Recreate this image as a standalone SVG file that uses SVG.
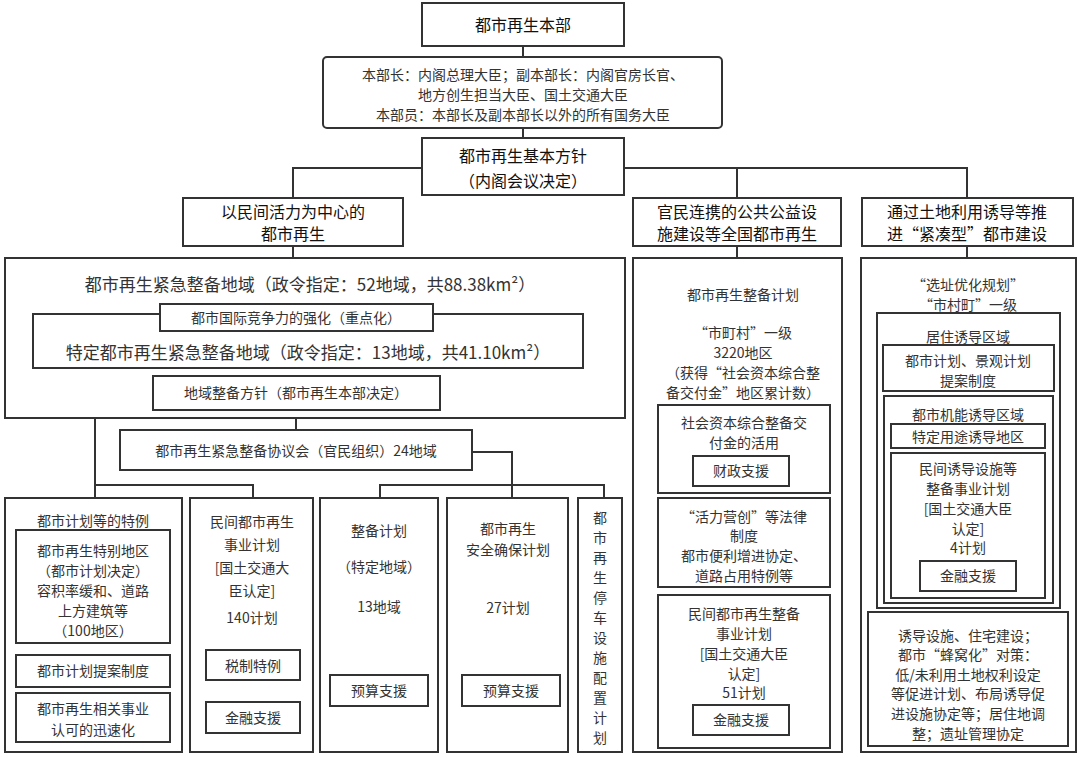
<svg xmlns="http://www.w3.org/2000/svg" width="1080" height="758" viewBox="0 0 1080 758">
<style>
rect{fill:#fff;stroke:#333;stroke-width:2}
.c line,.c polyline{stroke:#333;stroke-width:2;fill:none}
text{font-family:"Noto Sans CJK SC","Liberation Sans",sans-serif;fill:#333;text-anchor:middle;font-size:14px}
.h{font-size:16px;fill:#111}
.b{font-size:17px}
</style>
<rect width="1080" height="758" style="fill:#fff;stroke:none"/>
<g class="c">
<line x1="523" y1="46" x2="523" y2="57"/>
<line x1="523" y1="128" x2="523" y2="138"/>
<polyline points="293,198 293,168 967,168 967,198"/>
<line x1="737" y1="168" x2="737" y2="198"/>
<line x1="293" y1="246" x2="293" y2="258"/>
<line x1="737" y1="246" x2="737" y2="258"/>
<line x1="967" y1="246" x2="967" y2="258"/>
<line x1="296" y1="410" x2="296" y2="430"/>
<polyline points="95,418 95,498"/>
<polyline points="95,485 253,485 253,498"/>
<polyline points="472,452 512,452 512,498"/>
<polyline points="380,498 380,485 604,485 604,498"/>
</g>
<g id="hq"><rect x="422" y="3" width="202" height="43"/><text class="h" x="523" y="31">都市再生本部</text></g>
<g id="members"><rect x="323" y="57" width="399" height="71" rx="4"/>
<text x="523" y="80">本部长：内阁总理大臣；副本部长：内阁官房长官、</text>
<text x="523" y="100">地方创生担当大臣、国土交通大臣</text>
<text x="523" y="120">本部员：本部长及副本部长以外的所有国务大臣</text></g>
<g id="policy"><rect x="422" y="138" width="202" height="57"/><text class="h" x="523" y="162">都市再生基本方针</text><text class="h" x="523" y="187">（内阁会议决定）</text></g>
<g id="col1"><rect x="183" y="198" width="220" height="48"/><text class="h" x="293" y="218">以民间活力为中心的</text><text class="h" x="293" y="240">都市再生</text></g>
<g id="col2"><rect x="633" y="198" width="208" height="48"/><text class="h" x="737" y="218">官民连携的公共公益设</text><text class="h" x="737" y="240">施建设等全国都市再生</text></g>
<g id="col3"><rect x="862" y="198" width="211" height="48"/><text class="h" x="967" y="218">通过土地利用诱导等推</text><text class="h" x="967" y="240">进“紧凑型”都市建设</text></g>

<g id="urgent"><rect x="5" y="258" width="620" height="160"/>
<text class="b" x="310" y="291">都市再生紧急整备地域（政令指定：52地域，共88.38km²）</text></g>
<g id="specific"><rect x="33" y="314" width="550" height="54"/>
<text class="b" x="308" y="359">特定都市再生紧急整备地域（政令指定：13地域，共41.10km²）</text></g>
<g id="intl"><rect x="160" y="304" width="273" height="27"/><text x="296" y="323">都市国际竞争力的强化（重点化）</text></g>
<g id="regional"><rect x="153" y="376" width="287" height="34"/><text x="296" y="398">地域整备方针（都市再生本部决定）</text></g>
<g id="council"><rect x="120" y="430" width="352" height="40"/><text x="296" y="456">都市再生紧急整备协议会（官民组织）24地域</text></g>

<g id="b1"><rect x="5" y="498" width="177" height="254"/>
<text x="93" y="526">都市计划等的特例</text>
<rect x="16" y="530" width="154" height="113"/>
<text x="93" y="556">都市再生特别地区</text><text x="93" y="576">（都市计划决定）</text><text x="93" y="596">容积率缓和、道路</text><text x="93" y="616">上方建筑等</text><text x="93" y="636">（100地区）</text>
<rect x="16" y="655" width="154" height="32"/><text x="93" y="676">都市计划提案制度</text>
<rect x="16" y="693" width="154" height="49"/><text x="93" y="714">都市再生相关事业</text><text x="93" y="735">认可的迅速化</text></g>
<g id="b2"><rect x="190" y="498" width="123" height="254"/>
<text x="252" y="527">民间都市再生</text><text x="252" y="550">事业计划</text><text x="252" y="573">[国土交通大</text><text x="252" y="596">臣认定]</text><text x="252" y="623">140计划</text>
<rect x="206" y="650" width="94" height="30"/><text x="253" y="671">税制特例</text>
<rect x="206" y="702" width="94" height="31"/><text x="253" y="723">金融支援</text></g>
<g id="b3"><rect x="320" y="498" width="118" height="254"/>
<text x="379" y="536">整备计划</text><text x="379" y="572">（特定地域）</text><text x="379" y="612">13地域</text>
<rect x="330" y="675" width="98" height="31"/><text x="379" y="696">预算支援</text></g>
<g id="b4"><rect x="447" y="498" width="121" height="254"/>
<text x="508" y="534">都市再生</text><text x="508" y="555">安全确保计划</text><text x="508" y="613">27计划</text>
<rect x="462" y="675" width="98" height="31"/><text x="511" y="696">预算支援</text></g>
<g id="b5"><rect x="578" y="498" width="44" height="254"/>
<text x="600" y="523">都</text><text x="600" y="543">市</text><text x="600" y="563">再</text><text x="600" y="583">生</text><text x="600" y="603">停</text><text x="600" y="623">车</text><text x="600" y="643">设</text><text x="600" y="663">施</text><text x="600" y="683">配</text><text x="600" y="703">置</text><text x="600" y="723">计</text><text x="600" y="743">划</text></g>

<g id="m"><rect x="633" y="258" width="209" height="494"/>
<text x="743" y="300">都市再生整备计划</text>
<text x="743" y="338">“市町村”一级</text><text x="743" y="358">3220地区</text><text x="743" y="378">（获得“社会资本综合整</text><text x="743" y="398">备交付金”地区累计数）</text>
<rect x="658" y="405" width="172" height="88"/><text x="744" y="428">社会资本综合整备交</text><text x="744" y="448">付金的活用</text>
<rect x="693" y="456" width="96" height="30"/><text x="741" y="476">财政支援</text>
<rect x="658" y="498" width="172" height="89"/><text x="744" y="522">“活力营创”等法律</text><text x="744" y="541">制度</text><text x="744" y="561">都市便利增进协定、</text><text x="744" y="581">道路占用特例等</text>
<rect x="658" y="595" width="172" height="153"/><text x="744" y="619">民间都市再生整备</text><text x="744" y="639">事业计划</text><text x="744" y="659">[国土交通大臣</text><text x="744" y="679">认定]</text><text x="744" y="698">51计划</text>
<rect x="693" y="705" width="96" height="30"/><text x="741" y="725">金融支援</text></g>

<g id="r"><rect x="861" y="258" width="215" height="494"/>
<text x="968" y="290">“选址优化规划”</text><text x="968" y="310">“市村町”一级</text>
<rect x="877" y="313" width="183" height="295"/><text x="968" y="342">居住诱导区域</text>
<rect x="883" y="345" width="171" height="46"/><text x="968" y="366">都市计划、景观计划</text><text x="968" y="386">提案制度</text>
<rect x="884" y="396" width="169" height="207"/><text x="968" y="420">都市机能诱导区域</text>
<rect x="891" y="424" width="154" height="24"/><text x="968" y="442">特定用途诱导地区</text>
<rect x="891" y="453" width="154" height="145"/><text x="968" y="474">民间诱导设施等</text><text x="968" y="494">整备事业计划</text><text x="968" y="514">[国土交通大臣</text><text x="968" y="534">认定]</text><text x="968" y="553">4计划</text>
<rect x="920" y="561" width="96" height="30"/><text x="968" y="581">金融支援</text>
<rect x="868" y="612" width="200" height="134"/>
<text x="968" y="641">诱导设施、住宅建设；</text><text x="968" y="660">都市“蜂窝化”对策：</text><text x="968" y="680">低/未利用土地权利设定</text><text x="968" y="699">等促进计划、布局诱导促</text><text x="968" y="719">进设施协定等；居住地调</text><text x="968" y="739">整；遗址管理协定</text></g>
</svg>
